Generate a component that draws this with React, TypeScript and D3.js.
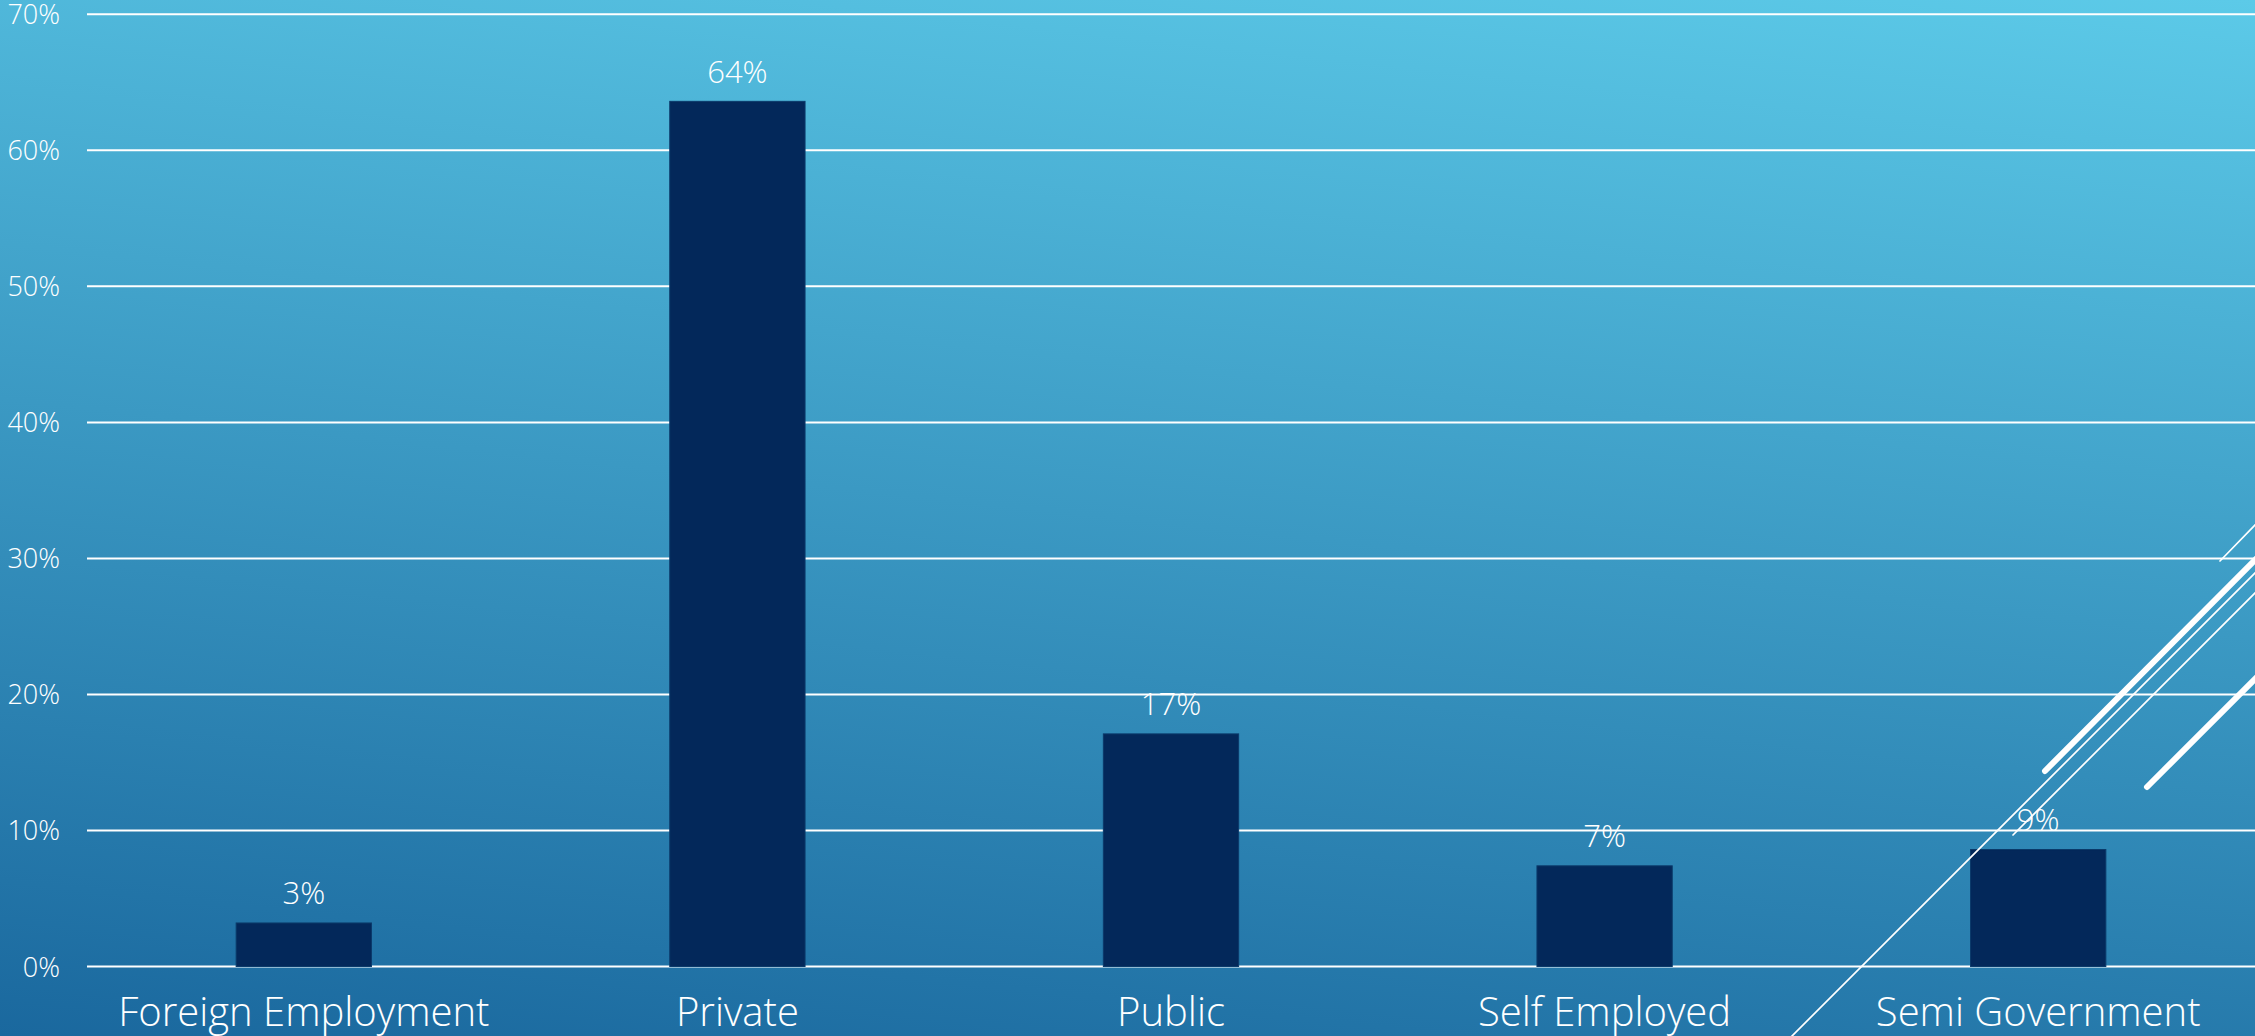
import * as d3 from "d3";

const WIDTH = 2255;
const HEIGHT = 1036;

// sector of employment, share of respondents
const categories = [
  "Foreign Employment",
  "Private",
  "Public",
  "Self Employed",
  "Semi Government",
];
const shares = [0.032, 0.636, 0.171, 0.074, 0.086];
const yTicks = [0, 0.1, 0.2, 0.3, 0.4, 0.5, 0.6, 0.7];

// theme decoration in the lower right corner (slide background, not data)
const decoLines = [
  { x1: 1790, y1: 1038, x2: 2258, y2: 570, w: 1.7 },
  { x1: 2013, y1: 835, x2: 2258, y2: 590, w: 1.7 },
  { x1: 2220, y1: 561, x2: 2258, y2: 522, w: 1.7 },
  { x1: 2045, y1: 771, x2: 2262, y2: 553, w: 6 },
  { x1: 2147, y1: 787, x2: 2262, y2: 672, w: 6 },
];

const FONT = "'Open Sans', 'DejaVu Sans', sans-serif";

export default function App() {
  const x = d3
    .scaleBand<string>()
    .domain(categories)
    .range([87, WIDTH])
    .padding(0);
  const y = d3.scaleLinear().domain([0, 0.7]).range([966.5, 14.3]);
  const barW = x.bandwidth() * 0.312;
  const pct = d3.format(".0%");

  return (
    <svg
      width={WIDTH}
      height={HEIGHT}
      style={{ position: "absolute", left: 0, top: 0, display: "block" }}
    >
      <defs>
        <linearGradient
          id="bg"
          gradientUnits="userSpaceOnUse"
          x1={0}
          y1={HEIGHT}
          x2={134}
          y2={-225}
        >
          <stop offset="0" stopColor="#1a689e" />
          <stop offset="1" stopColor="#5ccae8" />
        </linearGradient>
      </defs>
      <rect width={WIDTH} height={HEIGHT} fill="url(#bg)" />

      {/* gridlines */}
      {yTicks.map((t) => (
        <line
          key={t}
          x1={87}
          x2={WIDTH}
          y1={y(t)}
          y2={y(t)}
          stroke="#ffffff"
          strokeWidth={2}
        />
      ))}

      {/* y tick labels */}
      {yTicks.map((t) => (
        <text
          key={"l" + t}
          x={60}
          y={y(t) + 10}
          textAnchor="end"
          fill="#ffffff"
          fontFamily={FONT}
          fontWeight={300}
          fontSize={27}
        >
          {pct(t)}
        </text>
      ))}

      {/* bars */}
      {categories.map((c, i) => {
        const cx = x(c)! + x.bandwidth() / 2;
        return (
          <g key={c}>
            <rect
              x={cx - barW / 2}
              y={y(shares[i])}
              width={barW}
              height={y(0) - y(shares[i])}
              fill="#03285a"
              stroke="#0b3a6a"
              strokeWidth={1}
            />
            <text
              x={cx}
              y={y(shares[i]) - 18.5}
              textAnchor="middle"
              fill="#ffffff"
              fontFamily={FONT}
              fontWeight={300}
              fontSize={31}
            >
              {pct(shares[i])}
            </text>
            <text
              x={cx}
              y={1026}
              textAnchor="middle"
              fill="#ffffff"
              fontFamily={FONT}
              fontWeight={300}
              fontSize={40}
            >
              {c}
            </text>
          </g>
        );
      })}

      {/* decoration */}
      {decoLines.map((l, i) => (
        <line
          key={"d" + i}
          x1={l.x1}
          y1={l.y1}
          x2={l.x2}
          y2={l.y2}
          stroke="#ffffff"
          strokeWidth={l.w}
          strokeLinecap="round"
        />
      ))}
    </svg>
  );
}
